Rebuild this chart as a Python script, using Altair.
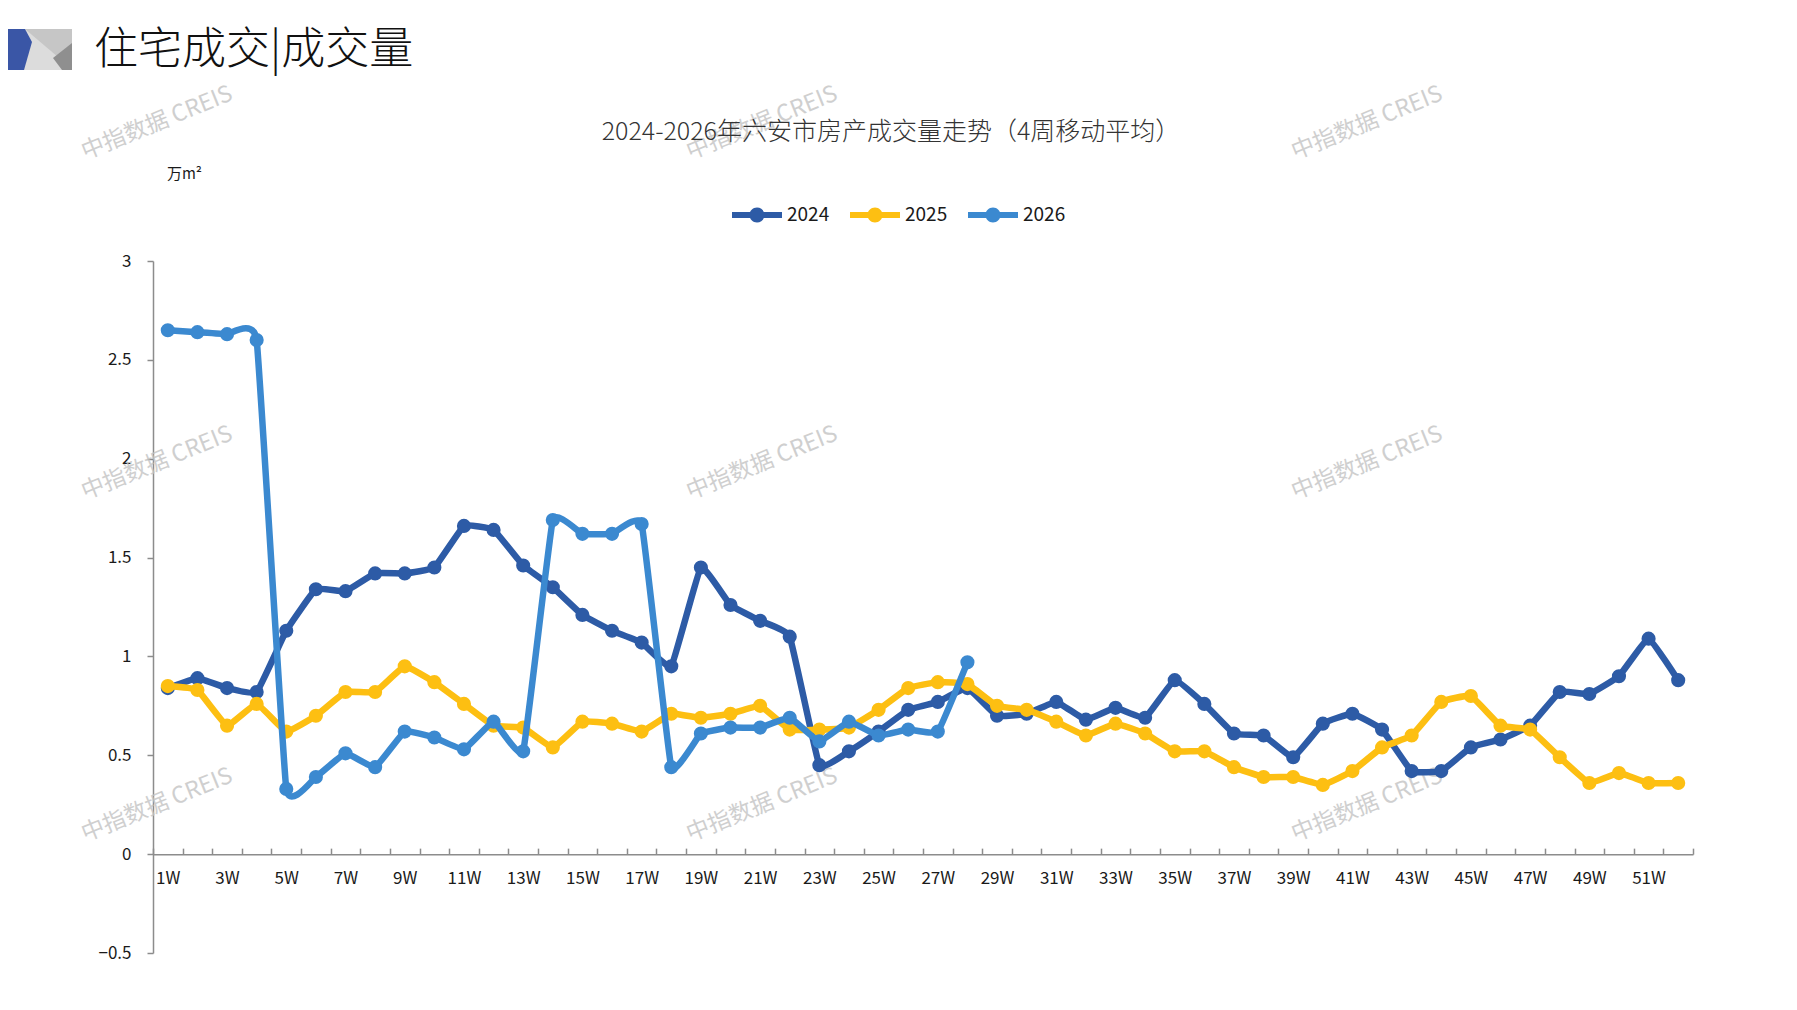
import altair as alt
import pandas as pd

# ---------------- data ----------------
weeks = [f"{i}W" for i in range(1, 53)]
years = ["2024", "2025", "2026"]
v2024 = [0.84, 0.89, 0.84, 0.82, 1.13, 1.34, 1.33, 1.42, 1.42, 1.45,
         1.66, 1.64, 1.46, 1.35, 1.21, 1.13, 1.07, 0.95, 1.45, 1.26,
         1.18, 1.10, 0.45, 0.52, 0.62, 0.73, 0.77, 0.84, 0.70, 0.71,
         0.77, 0.68, 0.74, 0.69, 0.88, 0.76, 0.61, 0.60, 0.49, 0.66,
         0.71, 0.63, 0.42, 0.42, 0.54, 0.58, 0.65, 0.82, 0.81, 0.90,
         1.09, 0.88]
v2025 = [0.85, 0.83, 0.65, 0.76, 0.62, 0.70, 0.82, 0.82, 0.95, 0.87,
         0.76, 0.65, 0.64, 0.54, 0.67, 0.66, 0.62, 0.71, 0.69, 0.71,
         0.75, 0.63, 0.63, 0.64, 0.73, 0.84, 0.87, 0.86, 0.75, 0.73,
         0.67, 0.60, 0.66, 0.61, 0.52, 0.52, 0.44, 0.39, 0.39, 0.35,
         0.42, 0.54, 0.60, 0.77, 0.80, 0.65, 0.63, 0.49, 0.36, 0.41,
         0.36, 0.36]
v2026 = [2.65, 2.64, 2.63, 2.60, 0.33, 0.39, 0.51, 0.44, 0.62, 0.59,
         0.53, 0.67, 0.52, 1.69, 1.62, 1.62, 1.67, 0.44, 0.61, 0.64,
         0.64, 0.69, 0.57, 0.67, 0.60, 0.63, 0.62, 0.97]
y_ticks = [-0.5, 0, 0.5, 1, 1.5, 2, 2.5, 3]

page_heading = "住宅成交|成交量"
chart_title = "2024-2026年六安市房产成交量走势（4周移动平均）"
unit_label = "万m²"
watermark = "中指数据 CREIS"

# ---------------- styles ----------------
colors = ["#2D5BA6", "#FDBF12", "#3B89D0"]
FONT = "Noto Sans CJK SC"
W, H = 1540, 692
PAD = {"left": 145, "top": 253, "right": 70, "bottom": 40}
AXIS_GRAY = "#8c8c8c"
zero_offset = -(H * 3 / 3.5)

wm_pos = [(4, -138), (609, -138), (1214, -138),
          (4, 202), (609, 202), (1214, 202),
          (4, 544), (609, 544), (1214, 544)]

legend_symbol = ("M-1,-0.12L1,-0.12L1,0.12L-1,0.12Z "
                 "M-0.3,0A0.3,0.3 0 1,1 0.3,0A0.3,0.3 0 1,1 -0.3,0Z")

rows = []
for yr, vals in zip(years, [v2024, v2025, v2026]):
    for w, v in zip(weeks, vals):
        rows.append({"year": yr, "week": w, "value": v})
df = pd.DataFrame(rows)
one = pd.DataFrame({"k": [0]})

x_enc = alt.X(
    "week:N",
    bandPosition=0.5,
    scale=alt.Scale(type="band", domain=weeks, paddingInner=0, paddingOuter=0),
    axis=alt.Axis(
        orient="top", offset=zero_offset, title=None, grid=False,
        domainColor=AXIS_GRAY, domainWidth=1.5,
        tickColor=AXIS_GRAY, tickWidth=1.5, tickSize=6, tickBand="extent",
        labelExpr="parseInt(datum.value) % 2 == 1 ? datum.label : ''",
        labelFont=FONT, labelFontSize=17, labelColor="#1a1a1a",
        labelPadding=-22, labelBaseline="top", labelAngle=0, labelOverlap=False,
    ),
)
y_enc = alt.Y(
    "value:Q",
    scale=alt.Scale(domain=[-0.5, 3], nice=False, zero=False),
    axis=alt.Axis(
        values=y_ticks, format="~g", grid=False,
        domainColor=AXIS_GRAY, domainWidth=1.5,
        tickColor=AXIS_GRAY, tickWidth=1.5, tickSize=6,
        labelFont=FONT, labelFontSize=17, labelColor="#1a1a1a", labelPadding=16,
        title=unit_label, titleAngle=0, titleX=31, titleY=-88,
        titleAlign="center", titleBaseline="middle",
        titleFont=FONT, titleFontSize=15, titleFontWeight="normal", titleColor="#1a1a1a",
    ),
)

color_enc = alt.Color(
    "year:N",
    scale=alt.Scale(domain=years, range=colors),
    legend=alt.Legend(
        title=None, orient="none", direction="horizontal",
        legendX=579, legendY=-71,
        symbolType=legend_symbol, symbolSize=2500,
        symbolStrokeWidth=0, symbolOpacity=1,
        labelFont=FONT, labelFontSize=19, labelColor="#1a1a1a",
        labelOffset=5, columnPadding=20,
    ),
)

layers = []

# watermarks (beneath the data)
for (wx, wy) in wm_pos:
    layers.append(
        alt.Chart(one).mark_text(
            text=watermark, font=FONT, fontSize=23, angle=338,
            color="#c4c4c4", opacity=0.8, align="center", baseline="middle",
        ).encode(x=alt.value(wx), y=alt.value(wy))
    )

for yr in years:
    sub = alt.Chart(df).transform_filter(alt.datum.year == yr)
    layers.append(
        sub.mark_line(strokeWidth=6.5, interpolate="cardinal", tension=0.7).encode(
            x=x_enc, y=y_enc, color=color_enc,
        )
    )
    layers.append(
        sub.mark_point(filled=True, size=200, opacity=1).encode(
            x=x_enc, y=y_enc, color=color_enc,
        )
    )

# header logo
logo_shapes = [
    ("M-0.306,-0.583L1,-0.583L1,0.556L-0.333,0.556Z", "#c6c6c6"),
    ("M-0.306,-0.583L0.611,0.194L0.75,0.556L-0.333,0.556Z", "#dcdcdc"),
    ("M1,-0.194L0.472,0.222L0.722,0.556L1,0.556Z", "#8f8f8f"),
    ("M-1,-0.583L-0.306,-0.583L-0.111,-0.222L-0.333,0.556L-1,0.556Z", "#3A56A6"),
]
for path, col in logo_shapes:
    layers.append(
        alt.Chart(one).mark_point(
            shape=path, filled=True, size=5184, color=col, opacity=1, strokeWidth=0,
        ).encode(x=alt.value(-117), y=alt.value(-211))
    )

layers.append(
    alt.Chart(one).mark_text(
        text=page_heading, font=FONT, fontSize=44, fontWeight=300,
        align="left", baseline="middle", color="#111111",
    ).encode(x=alt.value(-59), y=alt.value(-210))
)
layers.append(
    alt.Chart(one).mark_text(
        text=chart_title, font=FONT, fontSize=25, fontWeight=300,
        align="center", baseline="middle", color="#333333",
    ).encode(x=alt.value(738), y=alt.value(-129))
)

chart = alt.layer(*layers).properties(
    width=W, height=H,
    autosize=alt.AutoSizeParams(type="none"),
    padding=PAD,
    background="white",
).configure_view(stroke=None)

chart.save("out.html", embed_options={"renderer": "svg", "actions": False})
